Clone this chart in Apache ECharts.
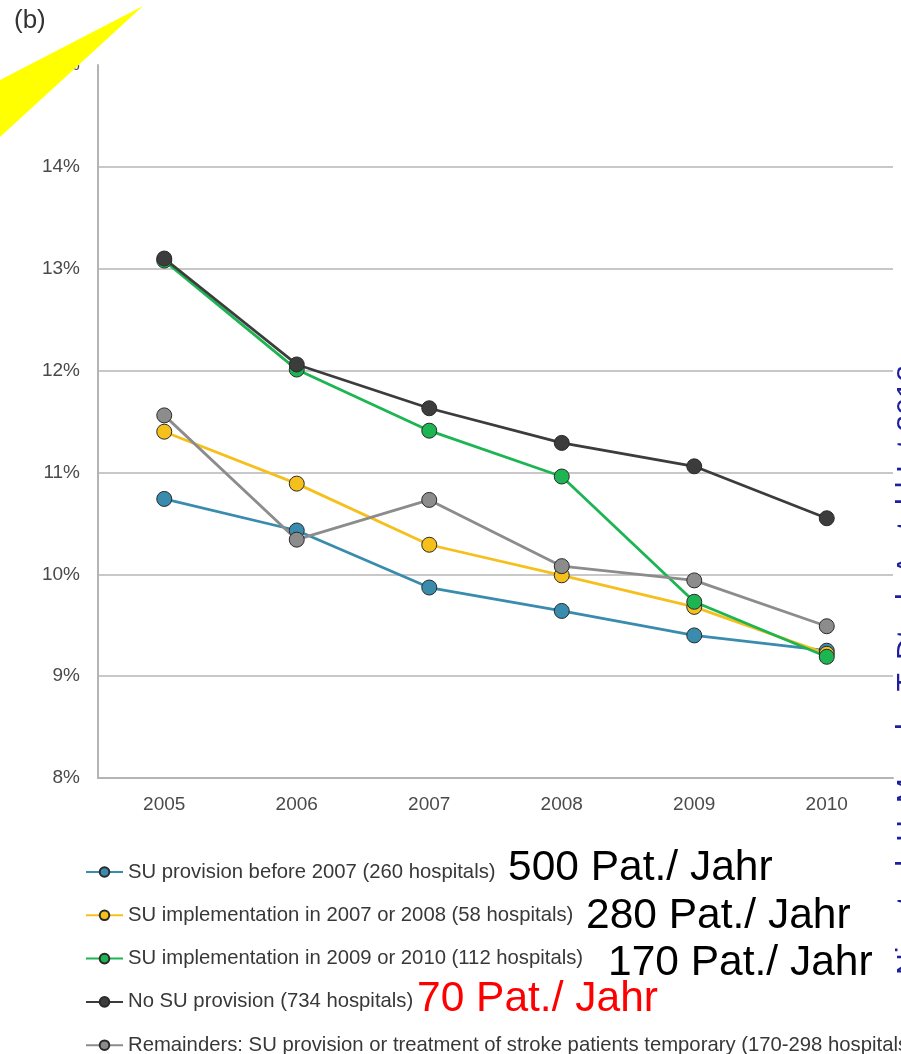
<!DOCTYPE html>
<html>
<head>
<meta charset="utf-8">
<script src="https://cdn.jsdelivr.net/npm/echarts@6/dist/echarts.min.js"></script>
<style>
  html, body { margin: 0; padding: 0; background: #ffffff; }
  #chart { width: 901px; height: 1054px; }
</style>
</head>
<body>
<div id="chart"></div>
<script>
// In-hospital stroke mortality (%) by stroke-unit (SU) provision group, 2005-2010
const years = ['2005', '2006', '2007', '2008', '2009', '2010'];

const suBefore2007     = [10.74, 10.43, 9.87, 9.64, 9.40, 9.25];
const suImpl2007or2008 = [11.40, 10.89, 10.29, 9.99, 9.68, 9.22];
const suImpl2009or2010 = [13.08, 12.01, 11.41, 10.96, 9.73, 9.19];
const noSuProvision    = [13.10, 12.06, 11.63, 11.29, 11.06, 10.55];
const remainders       = [11.56, 10.34, 10.73, 10.08, 9.94, 9.49];

const seriesNames = [
  'SU provision before 2007 (260 hospitals)',
  'SU implementation in 2007 or 2008 (58 hospitals)',
  'SU implementation in 2009 or 2010 (112 hospitals)',
  'No SU provision (734 hospitals)',
  'Remainders: SU provision or treatment of stroke patients temporary (170-298 hospitals)'
];
const seriesData = [suBefore2007, suImpl2007or2008, suImpl2009or2010, noSuProvision, remainders];
const seriesColors = ['#3a8cae', '#f6c01c', '#1cb552', '#3c3c3c', '#8c8c8c'];

// Case volume per year annotated next to the legend entries
const volumeLabels = ['500 Pat./ Jahr', '280 Pat./ Jahr', '170 Pat./ Jahr', '70 Pat./ Jahr'];

const FONT = "'Liberation Sans', Arial, Helvetica, sans-serif";

const chart = echarts.init(document.getElementById('chart'), null, { renderer: 'canvas' });

const series = seriesData.map((data, i) => ({
  name: seriesNames[i],
  type: 'line',
  data: data,
  symbol: 'circle',
  symbolSize: 15,
  lineStyle: { color: seriesColors[i], width: 2.8 },
  itemStyle: { color: seriesColors[i], borderColor: '#2a2a2a', borderWidth: 1 },
  emphasis: { disabled: true },
  animation: false
}));

const annotationText = (text, x, y, color) => ({
  type: 'text',
  x: x,
  y: y,
  z: 50,
  style: {
    text: text,
    fontFamily: FONT,
    fontSize: 42.5,
    fill: color,
    align: 'left',
    verticalAlign: 'middle'
  }
});

// grid lines at 8..14 %, none along the top edge (15 %)
const gridColors = ['#c8c8c8', '#c8c8c8', '#c8c8c8', '#c8c8c8', '#c8c8c8', '#c8c8c8', '#c8c8c8', 'rgba(0,0,0,0)'];

chart.setOption({
  backgroundColor: '#ffffff',
  animation: false,
  grid: { left: 98, right: 8, top: 65, bottom: 276, containLabel: false },
  xAxis: {
    type: 'category',
    data: years,
    boundaryGap: true,
    axisLine: { show: true, lineStyle: { color: '#b4b4b4', width: 2 } },
    axisTick: { show: false },
    axisLabel: { color: '#4a4a4a', fontFamily: FONT, fontSize: 19, margin: 17 },
    splitLine: { show: false }
  },
  yAxis: {
    type: 'value',
    min: 8,
    max: 15,
    interval: 1,
    axisLine: { show: true, lineStyle: { color: '#b4b4b4', width: 2 } },
    axisTick: { show: false },
    axisLabel: { color: '#4a4a4a', fontFamily: FONT, fontSize: 19, margin: 18, formatter: '{value}%' },
    splitLine: { show: true, lineStyle: { color: gridColors, width: 2 } }
  },
  legend: {
    type: 'plain',
    orient: 'vertical',
    left: 85,
    top: 862,
    height: 260,
    padding: 0,
    itemWidth: 37,
    itemHeight: 12,
    itemGap: 23.3,
    textStyle: { color: '#383838', fontFamily: FONT, fontSize: 20.3, lineHeight: 20 },
    data: seriesNames
  },
  series: series,
  graphic: [
    { type: 'text', x: 14, y: 8, z: 50,
      style: { text: '(b)', fontFamily: FONT, fontSize: 26, fill: '#333333', align: 'left', verticalAlign: 'top' } },
    { type: 'text', x: 198, y: -20, z: 50,
      style: { text: '(2010)', fontFamily: FONT, fontSize: 40, fill: '#000000', align: 'left', verticalAlign: 'middle' } },
    { type: 'polygon', z: 60,
      shape: { points: [[0, 80], [143, 6], [0, 137]] },
      style: { fill: '#ffff00' } },
    { type: 'text', x: 909, y: 975, rotation: Math.PI / 2, z: 50,
      style: { text: 'Nimptsch U, Mansky T. Dtsch Arztebl Int 2012', fontFamily: FONT, fontSize: 30,
               fill: '#1f1f9c', align: 'left', verticalAlign: 'middle' } },
    annotationText(volumeLabels[0], 508, 868, '#000000'),
    annotationText(volumeLabels[1], 586, 916, '#000000'),
    annotationText(volumeLabels[2], 608, 963, '#000000'),
    annotationText(volumeLabels[3], 417, 999, '#ff0000')
  ]
});
</script>
</body>
</html>
